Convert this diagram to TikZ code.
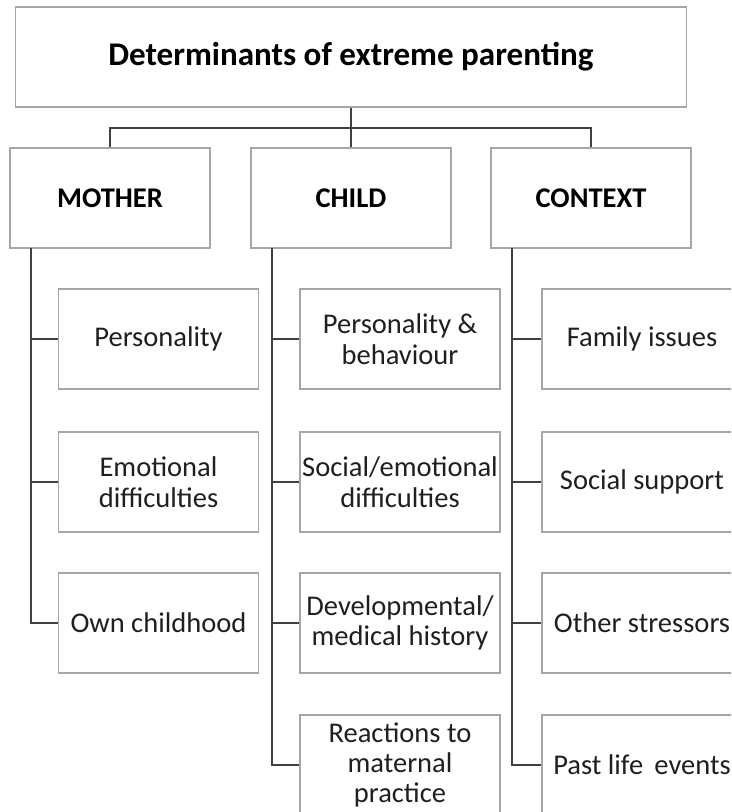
\documentclass[tikz,border=0pt]{standalone}
\usepackage{fontspec}
\setmainfont{Carlito}
\usepackage{tikz}
\usetikzlibrary{shapes,arrows}
\definecolor{boxgray}{HTML}{A6A6A6}
\definecolor{linegray}{HTML}{404040}
\tikzstyle{box} = [draw=boxgray, line width=0.9pt, fill=white, minimum width=150pt, minimum height=75pt, inner sep=0pt, align=center, text=black!88, font=\fontsize{21.4}{22.8}\selectfont]
\tikzstyle{head} = [box, font=\fontsize{21.4}{22.8}\selectfont\bfseries, text=black]
\tikzstyle{conn} = [draw=linegray, line width=0.9pt]

\begin{document}
\begin{tikzpicture}[x=0.75pt, y=-0.75pt]

	\useasboundingbox (0,0) rectangle (731,812);
	\clip (0,0) rectangle (731,812);

	% nodes
	\node[head, minimum width=503pt, font=\fontsize{24.8}{30}\selectfont\bfseries] (T) at (351,57) {Determinants of extreme parenting};
	\node[head] (M) at (110,198) {MOTHER};
	\node[head] (C) at (351,198) {CHILD};
	\node[head] (X) at (591,198) {CONTEXT};

	\node[box] (M1) at (158.5,339) {Personality};
	\node[box] (M2) at (158.5,482) {Emotional\\difficulties};
	\node[box] (M3) at (158.5,623) {Own childhood};

	\node[box] (C1) at (400,339) {Personality \&\\behaviour};
	\node[box] (C2) at (400,482) {Social/emotional\\difficulties};
	\node[box] (C3) at (400,623) {Developmental/\\medical history};
	\node[box] (C4) at (400,765) {Reactions to\\maternal\\practice};

	\node[box] (X1) at (642,339) {Family issues};
	\node[box] (X2) at (642,482) {Social support};
	\node[box] (X3) at (642,623) {Other stressors};
	\node[box] (X4) at (642,765) {Past life\, events};

	% lines
	\coordinate (hub) at (351,128);
	\coordinate (ma) at (31,248);
	\coordinate (ca) at (272,248);
	\coordinate (xa) at (512,248);

	\draw [conn] (T.south) -- (hub);
	\draw [conn] (M.north) |- (hub) -| (X.north);
	\draw [conn] (hub) -- (C.north);

	\foreach \n in {M1,M2,M3} \draw [conn] (ma) |- (\n.west);
	\foreach \n in {C1,C2,C3,C4} \draw [conn] (ca) |- (\n.west);
	\foreach \n in {X1,X2,X3,X4} \draw [conn] (xa) |- (\n.west);

\end{tikzpicture}
\end{document}
